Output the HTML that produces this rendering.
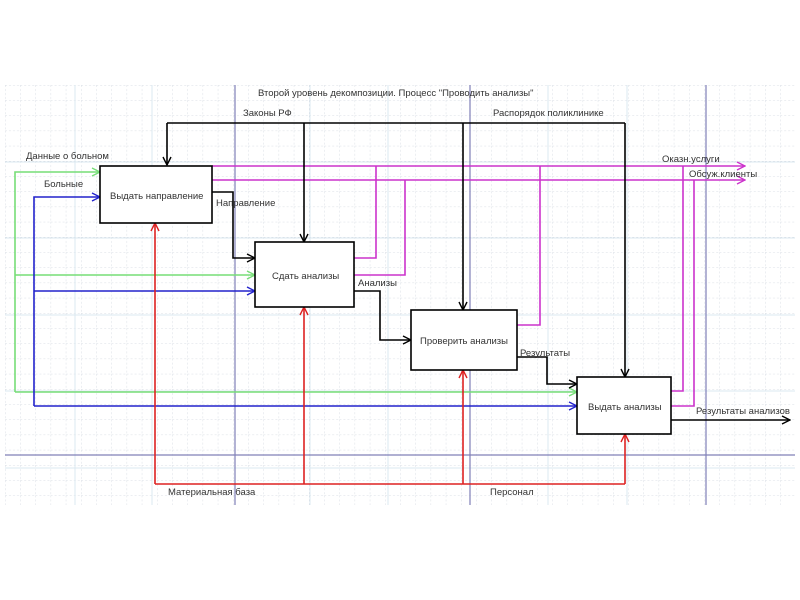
<!DOCTYPE html>
<html><head><meta charset="utf-8"><style>
body{margin:0;background:#fff;}
svg{display:block;}
text{font-family:"Liberation Sans","DejaVu Sans",sans-serif;font-size:9.5px;fill:#333;}
</style></head><body>
<svg width="800" height="600" xmlns="http://www.w3.org/2000/svg">
<defs>
<pattern id="g" x="5" y="85" width="15.2" height="15.2" patternUnits="userSpaceOnUse">
<path d="M0 0V15.2M0 0H15.2" stroke="#d8dde4" stroke-width="1" stroke-dasharray="2 2" fill="none"/>
</pattern>
<marker id="ak" markerWidth="10" markerHeight="10" refX="9" refY="5" orient="auto" markerUnits="userSpaceOnUse"><path d="M1 1L9 5L1 9" fill="none" stroke="#000" stroke-width="1.4"/></marker>
<marker id="am" markerWidth="10" markerHeight="10" refX="9" refY="5" orient="auto" markerUnits="userSpaceOnUse"><path d="M1 1L9 5L1 9" fill="none" stroke="#cc33cc" stroke-width="1.4"/></marker>
<marker id="ag" markerWidth="10" markerHeight="10" refX="9" refY="5" orient="auto" markerUnits="userSpaceOnUse"><path d="M1 1L9 5L1 9" fill="none" stroke="#77dd77" stroke-width="1.4"/></marker>
<marker id="ab" markerWidth="10" markerHeight="10" refX="9" refY="5" orient="auto" markerUnits="userSpaceOnUse"><path d="M1 1L9 5L1 9" fill="none" stroke="#2222cc" stroke-width="1.4"/></marker>
<marker id="ar" markerWidth="10" markerHeight="10" refX="9" refY="5" orient="auto" markerUnits="userSpaceOnUse"><path d="M1 1L9 5L1 9" fill="none" stroke="#dd2222" stroke-width="1.4"/></marker>
</defs>
<rect x="5" y="85" width="790" height="420" fill="url(#g)"/>
<g stroke="#dbe8f0" stroke-width="1">
<line x1="5" y1="162" x2="795" y2="162"/><line x1="5" y1="238" x2="795" y2="238"/><line x1="5" y1="315" x2="795" y2="315"/><line x1="5" y1="391" x2="795" y2="391"/><line x1="5" y1="468" x2="795" y2="468"/>
<line x1="75" y1="85" x2="75" y2="505"/><line x1="152" y1="85" x2="152" y2="505"/><line x1="310" y1="85" x2="310" y2="505"/><line x1="388" y1="85" x2="388" y2="505"/><line x1="548" y1="85" x2="548" y2="505"/><line x1="627" y1="85" x2="627" y2="505"/>
</g>
<g stroke="#8080b8" stroke-width="1.2">
<line x1="235" y1="85" x2="235" y2="505"/><line x1="470" y1="85" x2="470" y2="505"/><line x1="706" y1="85" x2="706" y2="505"/>
<line x1="5" y1="455" x2="795" y2="455"/>
</g>
<text x="258" y="96">Второй уровень декомпозиции. Процесс "Проводить анализы"</text>
<!-- magenta -->
<g stroke="#cc33cc" stroke-width="1.6" fill="none">
<line x1="212" y1="166" x2="745" y2="166" marker-end="url(#am)"/>
<line x1="212" y1="180" x2="745" y2="180" marker-end="url(#am)"/>
<path d="M354 258H376V166"/><path d="M354 275H405V180"/><path d="M517 325H540V166"/><path d="M671 391H683V166"/><path d="M671 406H694V180"/>
</g>
<!-- green -->
<g stroke="#77dd77" stroke-width="1.6" fill="none">
<path d="M15 392V172H100" marker-end="url(#ag)"/>
<line x1="15" y1="275" x2="255" y2="275" marker-end="url(#ag)"/>
<line x1="15" y1="392" x2="577" y2="392" marker-end="url(#ag)"/>
</g>
<!-- blue -->
<g stroke="#2222cc" stroke-width="1.6" fill="none">
<path d="M34 406V197H100" marker-end="url(#ab)"/>
<line x1="34" y1="291" x2="255" y2="291" marker-end="url(#ab)"/>
<line x1="34" y1="406" x2="577" y2="406" marker-end="url(#ab)"/>
</g>
<!-- red -->
<g stroke="#dd2222" stroke-width="1.6" fill="none">
<path d="M155 484H625"/>
<line x1="155" y1="484" x2="155" y2="223" marker-end="url(#ar)"/>
<line x1="304" y1="484" x2="304" y2="307" marker-end="url(#ar)"/>
<line x1="463" y1="484" x2="463" y2="370" marker-end="url(#ar)"/>
<line x1="625" y1="484" x2="625" y2="434" marker-end="url(#ar)"/>
</g>
<!-- black -->
<g stroke="#000" stroke-width="1.6" fill="none">
<path d="M167 123H625"/>
<line x1="167" y1="123" x2="167" y2="165" marker-end="url(#ak)"/>
<line x1="304" y1="123" x2="304" y2="242" marker-end="url(#ak)"/>
<line x1="463" y1="123" x2="463" y2="310" marker-end="url(#ak)"/>
<line x1="625" y1="123" x2="625" y2="377" marker-end="url(#ak)"/>
<path d="M212 192H233V258H255" marker-end="url(#ak)"/>
<path d="M354 291H380V340H411" marker-end="url(#ak)"/>
<path d="M517 357H547V384H577" marker-end="url(#ak)"/>
<line x1="671" y1="420" x2="790" y2="420" marker-end="url(#ak)"/>
</g>
<!-- boxes -->
<g fill="#fff" stroke="#000" stroke-width="1.6">
<rect x="100" y="166" width="112" height="57"/>
<rect x="255" y="242" width="99" height="65"/>
<rect x="411" y="310" width="106" height="60"/>
<rect x="577" y="377" width="94" height="57"/>
</g>
<text x="110" y="199">Выдать направление</text>
<text x="272" y="279">Сдать анализы</text>
<text x="420" y="344">Проверить анализы</text>
<text x="588" y="410">Выдать анализы</text>
<text x="243" y="116">Законы РФ</text>
<text x="493" y="116">Распорядок поликлинике</text>
<text x="26" y="159">Данные о больном</text>
<text x="44" y="187">Больные</text>
<text x="216" y="206">Направление</text>
<text x="358" y="286">Анализы</text>
<text x="520" y="356">Результаты</text>
<text x="696" y="414">Результаты анализов</text>
<text x="662" y="162">Оказн.услуги</text>
<text x="689" y="177">Обсуж.клиенты</text>
<text x="168" y="495">Материальная база</text>
<text x="490" y="495">Персонал</text>
</svg>
</body></html>
